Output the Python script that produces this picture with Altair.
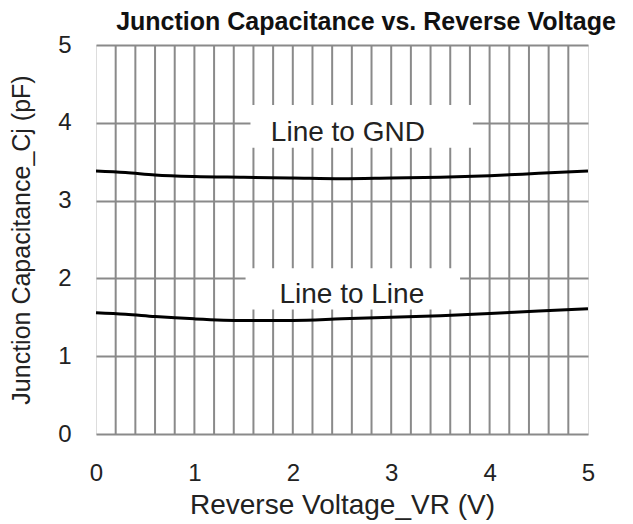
import altair as alt
import pandas as pd

# Curves
vr = [0.0, 0.3, 0.6, 1.0, 1.5, 2.0, 2.5, 3.0, 3.5, 4.0, 4.5, 5.0]
cj_gnd = [3.38, 3.36, 3.33, 3.31, 3.30, 3.29, 3.28, 3.29, 3.30, 3.32, 3.35, 3.38]
cj_line = [1.56, 1.54, 1.51, 1.48, 1.46, 1.46, 1.48, 1.50, 1.52, 1.55, 1.58, 1.61]

# annotations
ann_text = ["Line to GND", "Line to Line"]
ann_x = [2.56, 2.6]
ann_y = [3.87, 1.79]
box_x1 = [1.57, 1.52]
box_x2 = [3.83, 3.70]
box_y1 = [3.68, 1.60]
box_y2 = [4.23, 2.13]

x_grid = [0.2, 0.4, 0.6, 0.8, 1, 1.2, 1.4, 1.6, 1.8, 2, 2.2, 2.4, 2.6, 2.8,
          3, 3.2, 3.4, 3.6, 3.8, 4, 4.2, 4.4, 4.6, 4.8]
x_ticks = [0, 1, 2, 3, 4, 5]
y_ticks = [0, 1, 2, 3, 4, 5]

FONT = "Liberation Sans"
GRID = "#8a8a8a"

df = pd.DataFrame({
    "VR": vr * 2,
    "Cj": cj_gnd + cj_line,
    "series": ["Line to GND"] * len(vr) + ["Line to Line"] * len(vr),
})
ann = pd.DataFrame({"text": ann_text, "x": ann_x, "y": ann_y,
                    "x1": box_x1, "x2": box_x2, "y1": box_y1, "y2": box_y2})
grid_df = pd.DataFrame({"g": x_grid})

xscale = alt.Scale(domain=[0, 5], nice=False)
yscale = alt.Scale(domain=[0, 5], nice=False)

xaxis = alt.Axis(values=x_ticks, grid=False, ticks=False, domain=False, format="d",
                 labelFontSize=24, labelFont=FONT, labelColor="#222", labelPadding=27,
                 title="Reverse Voltage_VR (V)", titleFontSize=28, titleFont=FONT,
                 titleFontWeight="normal", titleColor="#222", titlePadding=6,
                 labelFlush=False, labelOverlap=False)
yaxis = alt.Axis(values=y_ticks, grid=True, ticks=False, domain=False, format="d",
                 labelFontSize=24, labelFont=FONT, labelColor="#222", labelPadding=25,
                 title="Junction Capacitance_Cj (pF)", titleFontSize=25, titleFont=FONT,
                 titleFontWeight="normal", titleColor="#222", titlePadding=23,
                 gridColor=GRID, gridWidth=2, gridOpacity=1, labelFlush=False,
                 labelOverlap=False)

base_axes = alt.Chart(df).mark_line(opacity=0).encode(
    x=alt.X("VR:Q", scale=xscale, axis=xaxis),
    y=alt.Y("Cj:Q", scale=yscale, axis=yaxis),
)

vgrid = alt.Chart(grid_df).mark_rule(color=GRID, strokeWidth=2).encode(
    x=alt.X("g:Q", scale=xscale),
)

boxes = alt.Chart(ann).mark_rect(color="white").encode(
    x=alt.X("x1:Q", scale=xscale), x2="x2:Q",
    y=alt.Y("y1:Q", scale=yscale), y2="y2:Q",
)

lines = alt.Chart(df).mark_line(color="black", strokeWidth=3, interpolate="monotone").encode(
    x=alt.X("VR:Q", scale=xscale),
    y=alt.Y("Cj:Q", scale=yscale),
    detail="series:N",
)

labels = alt.Chart(ann).mark_text(font=FONT, fontSize=28, color="#222").encode(
    x=alt.X("x:Q", scale=xscale),
    y=alt.Y("y:Q", scale=yscale),
    text="text:N",
)

chart = alt.layer(base_axes, vgrid, boxes, lines, labels).properties(
    width=492, height=389,
    title=alt.TitleParams("Junction Capacitance vs. Reverse Voltage", font=FONT,
                          fontSize=25, fontWeight="bold", color="#111",
                          anchor="middle", dx=24, offset=-2, frame="group"),
    autosize=alt.AutoSizeParams(type="none"),
    padding={"left": 88, "top": 37, "right": 37, "bottom": 90},
).configure_view(stroke="black", strokeWidth=4.5).configure(background="white")

chart.save("out.html", embed_options={"renderer": "svg", "actions": False})
